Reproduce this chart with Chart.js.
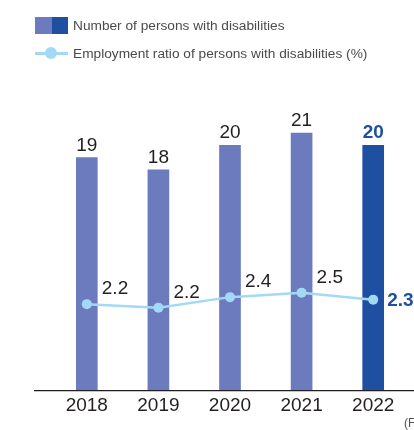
<!DOCTYPE html>
<html>
<head>
<meta charset="utf-8">
<script src="https://cdn.jsdelivr.net/npm/chart.js@4.4.0/dist/chart.umd.min.js"></script>
<style>
  html, body { margin: 0; padding: 0; background: #fff; overflow: hidden; }
  #wrap { position: relative; width: 414px; height: 430px; overflow: hidden; }
  #chart { position: absolute; left: 0; top: 0; }
  .legend { position: absolute; left: 35px; font: 13.7px "Liberation Sans", Arial, sans-serif; color: #4a4a4a; }
  .legend .row { position: absolute; left: 0; white-space: nowrap; height: 17px; line-height: 17px; }
  .legend .txt { position: absolute; left: 38px; top: 0; }
  .swatch { position: absolute; top: 0; width: 16.5px; height: 17px; }
  .mark-line { position: absolute; left: 0; top: 7px; width: 33px; height: 2.5px; background: #a4d9f5; }
  .mark-dot { position: absolute; left: 10px; top: 2px; width: 12px; height: 12px; border-radius: 50%; background: #a4d9f5; }
  .unit { position: absolute; left: 404px; top: 416px; font: 12px "Liberation Sans", Arial, sans-serif; color: #555; white-space: nowrap; }
</style>
</head>
<body>
<div id="wrap">
  <canvas id="chart" width="414" height="430"></canvas>
  <div class="legend">
    <div class="row" style="top:17px">
      <span class="swatch" style="left:0;background:#6b7bbd"></span>
      <span class="swatch" style="left:16.5px;background:#1f4fa1"></span>
      <span class="txt">Number of persons with disabilities</span>
    </div>
    <div class="row" style="top:45px">
      <span class="mark-line"></span>
      <span class="mark-dot"></span>
      <span class="txt">Employment ratio of persons with disabilities (%)</span>
    </div>
  </div>
  <div class="unit">(FY)</div>
</div>
<script>
const years = ['2018', '2019', '2020', '2021', '2022'];
const persons = [19, 18, 20, 21, 20];
const ratio = [2.24, 2.17, 2.38, 2.47, 2.33];

const FONT = '"Liberation Sans", Arial, sans-serif';
const TEXT = '#231f20';
const LIGHT = '#6b7bbd';
const DARK = '#1f4fa1';
const LINE = '#a4d9f5';
const last = years.length - 1;

// value labels above bars and beside line points, plus the long baseline
const labelPlugin = {
  id: 'labels',
  afterDatasetsDraw(chart) {
    const c = chart.ctx;
    const area = chart.chartArea;
    c.save();
    c.strokeStyle = TEXT;
    c.lineWidth = 1.2;
    c.beginPath();
    c.moveTo(34, area.bottom + 0.5);
    c.lineTo(chart.width, area.bottom + 0.5);
    c.stroke();

    const bars = chart.getDatasetMeta(0).data;
    c.textAlign = 'center';
    c.textBaseline = 'alphabetic';
    bars.forEach((b, i) => {
      c.font = (i === last ? 'bold ' : '') + '19px ' + FONT;
      c.fillStyle = i === last ? DARK : TEXT;
      c.fillText(String(persons[i]), b.x, b.y - 7);
    });

    const pts = chart.getDatasetMeta(1).data;
    c.textAlign = 'left';
    c.textBaseline = 'middle';
    pts.forEach((p, i) => {
      const txt = ratio[i].toFixed(1);
      if (i === last) {
        c.font = 'bold 19px ' + FONT;
        c.fillStyle = DARK;
        c.fillText(txt, p.x + 14, p.y + 1);
      } else {
        c.font = '19px ' + FONT;
        c.fillStyle = TEXT;
        c.fillText(txt, p.x + 15, p.y - 15);
      }
    });
    c.restore();
  }
};

new Chart(document.getElementById('chart'), {
  type: 'bar',
  data: {
    labels: years,
    datasets: [
      {
        type: 'bar',
        data: persons,
        backgroundColor: persons.map((v, i) => i === last ? DARK : LIGHT),
        barThickness: 21,
        yAxisID: 'y',
        order: 1
      },
      {
        type: 'line',
        data: ratio,
        borderColor: LINE,
        borderWidth: 2.5,
        pointRadius: 5,
        pointBackgroundColor: LINE,
        pointBorderColor: LINE,
        pointBorderWidth: 0,
        tension: 0,
        yAxisID: 'y1',
        order: 0
      }
    ]
  },
  options: {
    responsive: false,
    animation: false,
    layout: { padding: { left: 51, right: 5, top: 100, bottom: 9 } },
    plugins: { legend: { display: false }, tooltip: { enabled: false } },
    scales: {
      x: {
        grid: { display: false, drawTicks: false },
        border: { display: false },
        ticks: { color: TEXT, font: { family: FONT, size: 19 }, padding: 4 }
      },
      y: { display: false, min: 0, max: 23.7 },
      y1: { display: false, min: 0.52, max: 6.32 }
    }
  },
  plugins: [labelPlugin]
});
</script>
</body>
</html>
